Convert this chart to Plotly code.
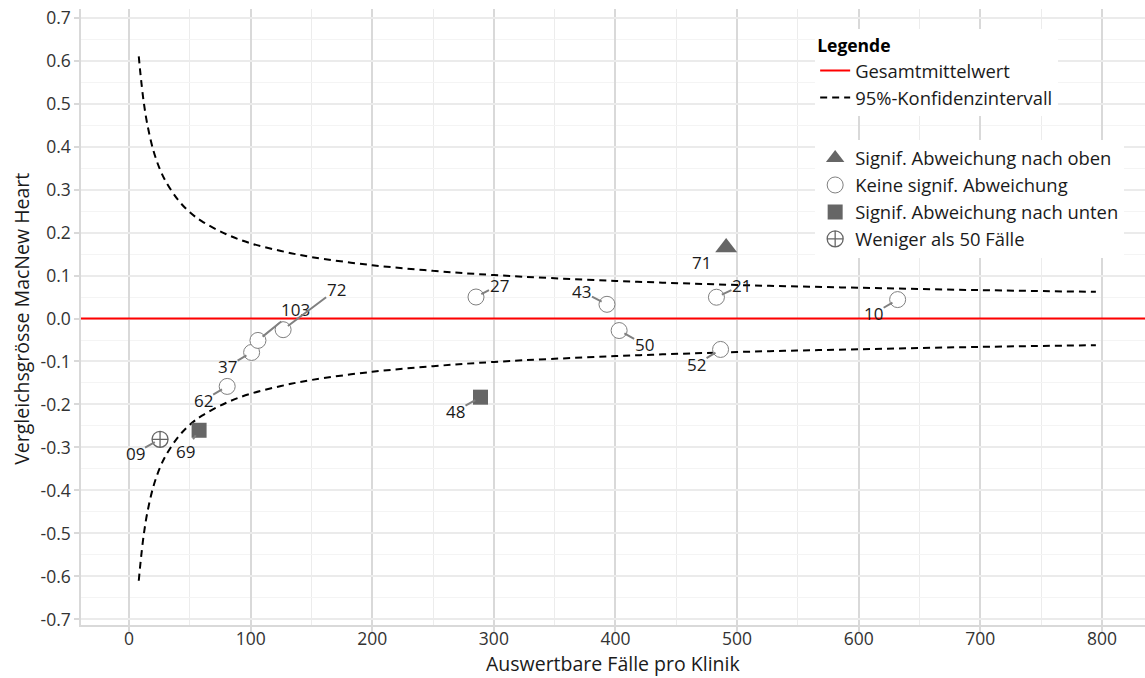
import plotly.graph_objects as go

# ---------------- data ----------------
clinics = ["09", "69", "62", "37", "103", "72", "27", "48", "43", "50", "21", "52", "71", "10"]
cases = [25.5, 57.6, 80.7, 100.8, 106.0, 126.7, 285.3, 289.0, 393.0, 403.0, 483.0, 486.4, 491.0, 632.0]
effect = [-0.281, -0.260, -0.158, -0.079, -0.051, -0.026, 0.050, -0.183, 0.033, -0.028, 0.0495, -0.072, 0.165, 0.044]
category = ["lt50", "down", "none", "none", "none", "none", "none", "down", "none", "none", "none", "none", "up", "none"]

overall_mean = 0.0

ci_cases = [8, 9, 10, 12, 15, 20, 25, 30, 40, 50, 60, 80, 100, 125, 150, 200, 250, 300, 400, 500, 600, 700, 795]
ci_upper = [0.61, 0.58, 0.553, 0.505, 0.452, 0.391, 0.35, 0.32, 0.277, 0.247, 0.226, 0.196, 0.175,
            0.157, 0.143, 0.124, 0.111, 0.101, 0.0875, 0.078, 0.0715, 0.066, 0.062]
ci_lower = [-0.61, -0.58, -0.553, -0.505, -0.452, -0.391, -0.35, -0.32, -0.277, -0.247, -0.226, -0.196, -0.175,
            -0.157, -0.143, -0.124, -0.111, -0.101, -0.0875, -0.078, -0.0715, -0.066, -0.062]

x_ticks = [0, 100, 200, 300, 400, 500, 600, 700, 800]
x_tick_labels = ["0", "100", "200", "300", "400", "500", "600", "700", "800"]
y_ticks = [-0.7, -0.6, -0.5, -0.4, -0.3, -0.2, -0.1, 0.0, 0.1, 0.2, 0.3, 0.4, 0.5, 0.6, 0.7]
y_tick_labels = ["-0.7", "-0.6", "-0.5", "-0.4", "-0.3", "-0.2", "-0.1", "0.0",
                 "0.1", "0.2", "0.3", "0.4", "0.5", "0.6", "0.7"]

x_title = "Auswertbare Fälle pro Klinik"
y_title = "Vergleichsgrösse MacNew Heart"

# label offsets (pixels) for the repelled labels
label_dx = {"09": -25, "69": -14, "62": -24, "37": -24, "103": 38, "72": 53, "27": 23,
            "48": -25, "43": -25, "50": 25, "21": 25, "52": -24, "71": -25, "10": -24}
label_dy = {"09": 14, "69": 21, "62": 14, "37": 14, "103": -31, "72": -40, "27": -12,
            "48": 14, "43": -13, "50": 14, "21": -12, "52": 15, "71": 15, "10": 14}

FONT = "Open Sans"
GREY = "#666666"
TXT = "#1a1a1a"

fig = go.Figure()

# mean line (legend entry) + shape
fig.add_trace(go.Scatter(x=[None], y=[None], mode="lines", name="Gesamtmittelwert",
                         line=dict(color="red", width=2), legend="legend"))
fig.add_hline(y=overall_mean, line=dict(color="red", width=2))

# confidence interval
fig.add_trace(go.Scatter(x=ci_cases, y=ci_upper, mode="lines", name="95%-Konfidenzintervall",
                         line=dict(color="black", width=2, dash="7px,5px", shape="spline"),
                         legend="legend", hoverinfo="skip"))
fig.add_trace(go.Scatter(x=ci_cases, y=ci_lower, mode="lines", showlegend=False,
                         line=dict(color="black", width=2, dash="7px,5px", shape="spline"),
                         hoverinfo="skip"))

styles = {
    "up": dict(name="Signif. Abweichung nach oben",
               marker=dict(symbol="triangle-up", size=19, color=GREY, line=dict(width=0))),
    "none": dict(name="Keine signif. Abweichung",
                 marker=dict(symbol="circle", size=16, color="white", line=dict(color="#808080", width=1))),
    "down": dict(name="Signif. Abweichung nach unten",
                 marker=dict(symbol="square", size=15, color=GREY, line=dict(width=0))),
    "lt50": dict(name="Weniger als 50 Fälle",
                 marker=dict(symbol="circle-cross-open", size=16, color=GREY, line=dict(color=GREY, width=1.3))),
}
for cat in ["up", "none", "down", "lt50"]:
    xs = [c for c, k in zip(cases, category) if k == cat]
    ys = [e for e, k in zip(effect, category) if k == cat]
    txt = [l for l, k in zip(clinics, category) if k == cat]
    fig.add_trace(go.Scatter(x=xs, y=ys, mode="markers", name=styles[cat]["name"],
                             marker=styles[cat]["marker"], text=txt, legend="legend2"))

for lab, xv, yv, cat in zip(clinics, cases, effect, category):
    fig.add_annotation(x=xv, y=yv, text=lab, showarrow=True, arrowhead=0,
                       arrowcolor="#808080" if cat != "up" else "rgba(0,0,0,0)", arrowwidth=2,
                       ax=label_dx[lab], ay=label_dy[lab], axref="pixel", ayref="pixel",
                       standoff=6,
                       font=dict(family=FONT, size=17, color=TXT),
                       borderpad=0)

# axis titles
fig.add_annotation(xref="paper", yref="paper", x=0.5, y=-0.063, text=x_title, showarrow=False,
                   xanchor="center", yanchor="middle", borderpad=0,
                   font=dict(family=FONT, size=19.5, color=TXT))
fig.add_annotation(xref="paper", yref="paper", x=-0.0555, y=0.497, text=y_title, showarrow=False,
                   textangle=-90, xanchor="center", yanchor="middle", borderpad=0,
                   font=dict(family=FONT, size=19.5, color=TXT))

fig.update_layout(
    width=1145, height=678,
    margin=dict(l=81, r=0, t=9, b=53),
    plot_bgcolor="white", paper_bgcolor="white",
    font=dict(family=FONT, size=17, color="#333333"),
    xaxis=dict(range=[-39.5, 835.4], tickvals=x_ticks, ticktext=x_tick_labels,
               automargin=False, ticklabeloverflow="allow",
               showgrid=True, gridcolor="#d9d9d9", gridwidth=2,
               minor=dict(dtick=50, showgrid=True, gridcolor="#ececec", gridwidth=1, tick0=0),
               showline=True, linecolor="#d9d9d9", linewidth=1.5,
               ticks="outside", ticklen=5, tickcolor="#d9d9d9", tickwidth=1.5,
               ticklabelstandoff=-8,
               zeroline=False,
               tickfont=dict(size=17.5, color="#333333")),
    yaxis=dict(range=[-0.713, 0.72], tickvals=y_ticks, ticktext=y_tick_labels,
               automargin=False, ticklabeloverflow="allow",
               showgrid=True, gridcolor="#ebebeb", gridwidth=2,
               minor=dict(dtick=0.05, tick0=0, showgrid=True, gridcolor="#f4f4f4", gridwidth=1),
               showline=True, linecolor="#d9d9d9", linewidth=1.5,
               ticks="outside", ticklen=5, tickcolor="#d9d9d9", tickwidth=1.5,
               zeroline=False,
               tickfont=dict(size=17.5, color="#333333")),
    legend=dict(x=0.69, y=0.967, xanchor="left", yanchor="top", bgcolor="white",
                title=dict(text="<b>Legende</b>", font=dict(size=17.5, color="black")),
                font=dict(size=18.4, color=TXT), itemwidth=30, tracegroupgap=0),
    legend2=dict(x=0.69, y=0.788, xanchor="left", yanchor="top", bgcolor="white",
                 font=dict(size=18.4, color=TXT), itemwidth=30),
)

fig.write_html("out.html", config={"displayModeBar": False},
               post_script="document.body.style.margin='0';document.body.style.padding='0';"
                           "document.body.style.overflow='hidden';")
